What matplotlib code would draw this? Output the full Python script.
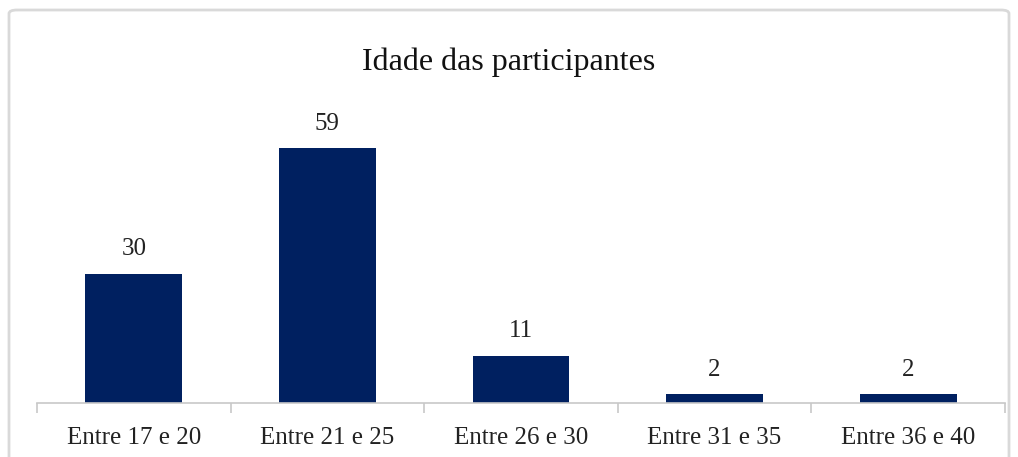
import matplotlib.pyplot as plt
import numpy as np
from matplotlib.patches import FancyBboxPatch

categorias = ["Entre 17 e 20", "Entre 21 e 25", "Entre 26 e 30", "Entre 31 e 35", "Entre 36 e 40"]
valores = [30, 59, 11, 2, 2]

plt.rcParams['font.family'] = ['Liberation Serif', 'DejaVu Serif']

fig = plt.figure(figsize=(10.18, 4.57), dpi=100)
ax = fig.add_axes([37 / 1018, 54 / 457, 968 / 1018, 302 / 457])

x = np.arange(len(categorias))
ax.bar(x, valores, width=0.5, color="#002060")
for xi, v in zip(x, valores):
    ax.text(xi, v + 3.2, str(v), ha="center", va="bottom", fontsize=18, color="#222222")

ax.set_xlim(-0.5, len(categorias) - 0.5)
ax.set_ylim(0, 70)
ax.set_yticks([])
for s in ["top", "right", "left"]:
    ax.spines[s].set_visible(False)
ax.spines["bottom"].set_color("#c8c8c8")
ax.spines["bottom"].set_linewidth(1.2)

ax.set_xticks(np.arange(len(categorias) + 1) - 0.5)
ax.set_xticklabels([])
ax.tick_params(axis="x", length=7, color="#c8c8c8", width=1.2)
ax.set_xticks(x, minor=True)
ax.set_xticklabels(categorias, minor=True, fontsize=18, color="#222222")
ax.tick_params(axis="x", which="minor", length=0, pad=17)

fig.text(0.5, 1 - 62 / 457, "Idade das participantes", ha="center", va="center", fontsize=23, color="#111111")

frame = FancyBboxPatch((9 / 1018, -0.1), 1000 / 1018, (457 - 10) / 457 + 0.1,
                       boxstyle="round,pad=0,rounding_size=0.008",
                       transform=fig.transFigure, fill=False, edgecolor="#d9d9d9", linewidth=2)
fig.patches.append(frame)

fig.savefig("out.png", dpi=100)
